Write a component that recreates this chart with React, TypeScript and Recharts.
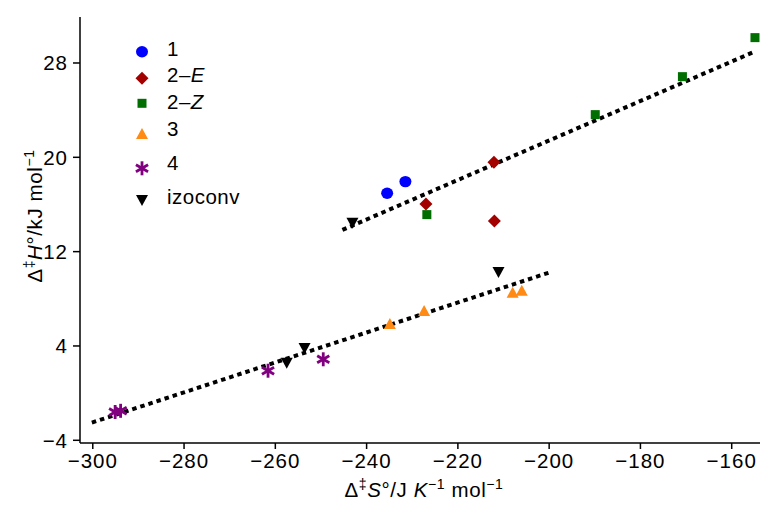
import React from 'react';
import { ScatterChart, Scatter, XAxis, YAxis, ReferenceLine, Legend } from 'recharts';

const FONT = '"Liberation Sans", Arial, Helvetica, sans-serif';

// ---- data (ΔS in J K^-1 mol^-1, ΔH in kJ mol^-1) ----
const series1 = [
  { x: -235.5, y: 16.95 },
  { x: -231.5, y: 17.94 },
];
const series2E = [
  { x: -227.0, y: 16.04 },
  { x: -212.1, y: 19.58 },
  { x: -212.0, y: 14.6 },
];
const series2Z = [
  { x: -226.8, y: 15.14 },
  { x: -189.9, y: 23.62 },
  { x: -170.8, y: 26.84 },
  { x: -154.9, y: 30.15 },
];
const series3 = [
  { x: -234.9, y: 5.87 },
  { x: -227.4, y: 6.97 },
  { x: -208.0, y: 8.52 },
  { x: -206.0, y: 8.69 },
];
const series4 = [
  { x: -295.1, y: -1.6 },
  { x: -293.9, y: -1.5 },
  { x: -261.6, y: 1.9 },
  { x: -249.5, y: 2.87 },
];
const seriesIzo = [
  { x: -243.1, y: 14.46 },
  { x: -211.1, y: 10.28 },
  { x: -257.5, y: 2.58 },
  { x: -253.6, y: 3.83 },
];
const upperFit = [
  { x: -245.3, y: 13.84 },
  { x: -155.3, y: 28.91 },
];
const lowerFit = [
  { x: -300.2, y: -2.5 },
  { x: -199.8, y: 10.25 },
];
const xTicks = [-300, -280, -260, -240, -220, -200, -180, -160];
const yTicks = [-4, 4, 12, 20, 28];
const legendLabels = ['1', '2–E', '2–Z', '3', '4', 'izoconv'];

const COLORS = {
  c1: '#0000FF',
  c2E: '#A30000',
  c2Z: '#006E00',
  c3: '#FF8A14',
  c4: '#800080',
  izo: '#000000',
};

type Kind = 'circle' | 'diamond' | 'square' | 'triangle' | 'star' | 'down';

function Marker({ kind, cx, cy }: { kind: Kind; cx: number; cy: number }) {
  switch (kind) {
    case 'circle':
      return <ellipse cx={cx} cy={cy} rx={6} ry={5.7} fill={COLORS.c1} />;
    case 'diamond':
      return (
        <polygon
          points={`${cx},${cy - 6.5} ${cx + 6.5},${cy} ${cx},${cy + 6.5} ${cx - 6.5},${cy}`}
          fill={COLORS.c2E}
        />
      );
    case 'square':
      return <rect x={cx - 4.5} y={cy - 4.5} width={9} height={9} fill={COLORS.c2Z} />;
    case 'triangle':
      return (
        <polygon
          points={`${cx},${cy - 6} ${cx + 6},${cy + 5} ${cx - 6},${cy + 5}`}
          fill={COLORS.c3}
        />
      );
    case 'star': {
      const r = 7;
      const lines = [90, 30, 150].map((a) => {
        const rad = (a * Math.PI) / 180;
        const dx = r * Math.cos(rad);
        const dy = r * Math.sin(rad);
        return (
          <line
            key={a}
            x1={cx - dx}
            y1={cy - dy}
            x2={cx + dx}
            y2={cy + dy}
            stroke={COLORS.c4}
            strokeWidth={2.8}
          />
        );
      });
      return <g>{lines}</g>;
    }
    case 'down':
      return (
        <polygon
          points={`${cx - 6},${cy - 5} ${cx + 6},${cy - 5} ${cx},${cy + 6}`}
          fill={COLORS.izo}
        />
      );
  }
  return null;
}

const shapeOf = (kind: Kind) => (p: any) => <Marker kind={kind} cx={p.cx} cy={p.cy} />;

const fmt = (v: number) => String(v).replace('-', '\u2212');

const legendKinds: Kind[] = ['circle', 'diamond', 'square', 'triangle', 'star', 'down'];
const legendMarkerY = [51.7, 78.3, 103.3, 134, 168.3, 200];
const legendTextY = [55.5, 81.7, 109.3, 136, 170, 204];

function LegendBox() {
  return (
    <svg width={300} height={220} style={{ display: 'block' }}>
      {legendKinds.map((k, i) => (
        <Marker key={k} kind={k} cx={142} cy={legendMarkerY[i]} />
      ))}
      {legendLabels.map((lab, i) => {
        const parts = lab.split('–');
        return (
          <text
            key={lab}
            x={167}
            y={legendTextY[i]}
            fontSize={20.5}
            letterSpacing={0.5}
            fontFamily={FONT}
            fill="#000"
          >
            {parts.length === 2 ? (
              <>
                {parts[0]}–<tspan fontStyle="italic">{parts[1]}</tspan>
              </>
            ) : (
              lab
            )}
          </text>
        );
      })}
    </svg>
  );
}

const XTitle = () => (
  <text
    x={424}
    y={497}
    textAnchor="middle"
    fontSize={20.5}
    letterSpacing={0.6}
    fontFamily={FONT}
    fill="#000"
  >
    Δ<tspan fontSize={14} dy={-8}>‡</tspan>
    <tspan dy={8} fontStyle="italic">S</tspan>°/J <tspan fontStyle="italic">K</tspan>
    <tspan fontSize={14} dy={-8}>−1</tspan>
    <tspan dy={8}> mol</tspan>
    <tspan fontSize={14} dy={-8}>−1</tspan>
  </text>
);

const YTitle = () => (
  <text
    transform="translate(42, 216) rotate(-90)"
    textAnchor="middle"
    fontSize={20.5}
    letterSpacing={0.6}
    fontFamily={FONT}
    fill="#000"
  >
    Δ<tspan fontSize={14} dy={-8}>‡</tspan>
    <tspan dy={8} fontStyle="italic">H</tspan>°/kJ mol
    <tspan fontSize={14} dy={-8}>−1</tspan>
  </text>
);

const tickStyle = { fill: '#000', fontSize: 20.5, fontFamily: FONT, letterSpacing: 1 };

export default function App() {
  return (
    <div style={{ position: 'absolute', left: 0, top: 0, width: 760, height: 505, background: '#fff' }}>
      <ScatterChart
        width={760}
        height={505}
        margin={{ top: 17, right: 0, left: 0, bottom: 0 }}
        style={{ fontFamily: FONT }}
      >
        <XAxis
          type="number"
          dataKey="x"
          domain={[-302.8, -153.8]}
          ticks={xTicks}
          tickFormatter={fmt}
          allowDataOverflow
          height={62}
          tickSize={6}
          tickMargin={4}
          stroke="#000"
          strokeWidth={1.5}
          tick={tickStyle}
          label={{ content: () => <XTitle /> }}
        />
        <YAxis
          type="number"
          dataKey="y"
          domain={[-4.23, 31.9]}
          ticks={yTicks}
          tickFormatter={fmt}
          allowDataOverflow
          width={80}
          tickSize={7}
          tickMargin={5}
          stroke="#000"
          strokeWidth={1.5}
          tick={tickStyle}
          label={{ content: () => <YTitle /> }}
        />
        <ReferenceLine
          segment={upperFit}
          stroke="#000"
          strokeWidth={4}
          strokeDasharray="4.5 4"
          ifOverflow="visible"
        />
        <ReferenceLine
          segment={lowerFit}
          stroke="#000"
          strokeWidth={4}
          strokeDasharray="4.5 4"
          ifOverflow="visible"
        />
        <Scatter name="1" data={series1} shape={shapeOf('circle')} isAnimationActive={false} />
        <Scatter name="2–E" data={series2E} shape={shapeOf('diamond')} isAnimationActive={false} />
        <Scatter name="2–Z" data={series2Z} shape={shapeOf('square')} isAnimationActive={false} />
        <Scatter name="3" data={series3} shape={shapeOf('triangle')} isAnimationActive={false} />
        <Scatter name="4" data={series4} shape={shapeOf('star')} isAnimationActive={false} />
        <Scatter name="izoconv" data={seriesIzo} shape={shapeOf('down')} isAnimationActive={false} />
        <Legend
          layout="vertical"
          align="center"
          verticalAlign="middle"
          content={() => <LegendBox />}
          wrapperStyle={{ left: 0, top: 0, width: 300, height: 220, pointerEvents: 'none' }}
        />
      </ScatterChart>
    </div>
  );
}
